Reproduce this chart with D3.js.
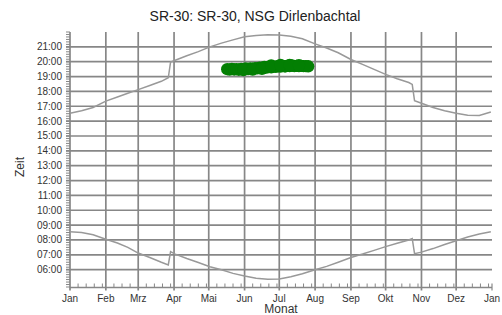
<!DOCTYPE html>
<html>
<head>
<meta charset="utf-8">
<script src="https://cdn.jsdelivr.net/npm/d3@7"></script>
<style>
  body { margin: 0; background: #fff; }
  svg { display: block; font-family: "Liberation Sans", Arial, sans-serif; }
</style>
</head>
<body>
<div id="chart"></div>
<script>
// month boundaries (day of year) and labels
const monthStarts = [0, 31, 59, 90, 120, 151, 181, 212, 243, 273, 304, 334, 365];
const monthLabels = ['Jan', 'Feb', 'Mrz', 'Apr', 'Mai', 'Jun', 'Jul', 'Aug', 'Sep', 'Okt', 'Nov', 'Dez', 'Jan'];
const hourTicks = [6, 7, 8, 9, 10, 11, 12, 13, 14, 15, 16, 17, 18, 19, 20, 21];

// sunset, local time in hours (DST jumps in March and October)
const sunsetDays  = [0, 10, 20, 31, 41, 50, 59, 69, 79, 85, 87, 91, 101, 111, 121, 131, 141, 151, 161, 171, 181, 191, 201, 212, 222, 232, 243, 253, 263, 273, 283, 293, 296, 298, 304, 314, 324, 334, 344, 354, 364];
const sunsetHours = [16.53, 16.7, 16.92, 17.35, 17.62, 17.88, 18.12, 18.4, 18.68, 18.92, 19.98, 20.1, 20.4, 20.68, 21.0, 21.25, 21.47, 21.68, 21.77, 21.82, 21.8, 21.72, 21.55, 21.2, 20.92, 20.6, 20.15, 19.82, 19.48, 19.15, 18.85, 18.6, 18.47, 17.38, 17.2, 16.92, 16.7, 16.53, 16.4, 16.38, 16.62];

// sunrise, local time in hours
const sunriseDays  = [0, 10, 20, 31, 41, 50, 59, 69, 79, 85, 87, 91, 101, 111, 121, 131, 141, 151, 161, 171, 181, 191, 201, 212, 222, 232, 243, 253, 263, 273, 283, 293, 296, 298, 304, 314, 324, 334, 344, 354, 364];
const sunriseHours = [8.55, 8.5, 8.35, 8.05, 7.8, 7.5, 7.12, 6.82, 6.5, 6.32, 7.22, 7.05, 6.75, 6.48, 6.2, 6.0, 5.75, 5.57, 5.43, 5.35, 5.38, 5.52, 5.72, 6.0, 6.22, 6.5, 6.82, 7.05, 7.3, 7.55, 7.78, 8.0, 8.1, 7.08, 7.18, 7.42, 7.7, 7.95, 8.2, 8.4, 8.55];

// observations (day of year, time in hours)
const obsDays  = [136, 138, 140, 142, 144, 146, 148, 150, 152, 154, 156, 158, 160, 162, 164, 166, 168, 170, 172, 174, 176, 178, 180, 182, 184, 186, 188, 190, 192, 194, 196, 198, 200, 202, 204, 206,
                  150, 158, 166, 174, 182, 190, 198];
const obsHours = [19.5, 19.47, 19.52, 19.48, 19.5, 19.46, 19.52, 19.5, 19.55, 19.5, 19.55, 19.52, 19.57, 19.55, 19.6, 19.58, 19.64, 19.6, 19.66, 19.62, 19.68, 19.65, 19.7, 19.67, 19.72, 19.68, 19.72, 19.7, 19.74, 19.7, 19.72, 19.7, 19.72, 19.7, 19.7, 19.69,
                  19.44, 19.47, 19.52, 19.74, 19.78, 19.78, 19.76];

const width = 502, height = 315;
const plot = { left: 70, right: 492, top: 32, bottom: 287.5 };

const svg = d3.select('#chart').append('svg')
  .attr('width', width)
  .attr('height', height);

const x = d3.scaleLinear().domain([0, 365]).range([plot.left, plot.right]);
const y = d3.scaleLinear().domain([4.8, 22]).range([plot.bottom, plot.top]);

const gridColor = '#878787';
const textColor = '#333';

// minor y ticks every 10 minutes
const minorY = d3.range(Math.ceil(4.8 * 6), 22 * 6 + 1).map(d => d / 6);
svg.append('g').selectAll('line')
  .data(minorY)
  .enter().append('line')
  .attr('x1', plot.left - 4).attr('x2', plot.left)
  .attr('y1', d => y(d)).attr('y2', d => y(d))
  .attr('stroke', gridColor).attr('stroke-width', 1);

// horizontal grid lines
svg.append('g').selectAll('line')
  .data(hourTicks)
  .enter().append('line')
  .attr('x1', plot.left - 4).attr('x2', plot.right)
  .attr('y1', d => y(d)).attr('y2', d => y(d))
  .attr('stroke', gridColor).attr('stroke-width', 1.7);

// minor x ticks (weekly within each month)
const minorX = [];
monthStarts.slice(0, 12).forEach((s, i) => {
  [7, 14, 21, 28].forEach(o => { if (s + o < monthStarts[i + 1]) minorX.push(s + o); });
});
svg.append('g').selectAll('line')
  .data(minorX)
  .enter().append('line')
  .attr('x1', d => x(d)).attr('x2', d => x(d))
  .attr('y1', plot.bottom - 4).attr('y2', plot.bottom)
  .attr('stroke', gridColor).attr('stroke-width', 1);

// vertical month grid lines
svg.append('g').selectAll('line')
  .data(monthStarts.slice(0, 12))
  .enter().append('line')
  .attr('x1', d => x(d)).attr('x2', d => x(d))
  .attr('y1', plot.top).attr('y2', plot.bottom + 3)
  .attr('stroke', gridColor).attr('stroke-width', 1.7);

svg.append('line')
  .attr('x1', x(365)).attr('x2', x(365))
  .attr('y1', plot.bottom - 4).attr('y2', plot.bottom + 3)
  .attr('stroke', gridColor).attr('stroke-width', 1.2);

// x axis line
svg.append('line')
  .attr('x1', plot.left).attr('x2', plot.right)
  .attr('y1', plot.bottom).attr('y2', plot.bottom)
  .attr('stroke', gridColor).attr('stroke-width', 1.7);

// y tick labels
svg.append('g').selectAll('text')
  .data(hourTicks)
  .enter().append('text')
  .attr('x', plot.left - 8)
  .attr('y', d => y(d))
  .attr('dy', '0.35em')
  .attr('text-anchor', 'end')
  .style('font-size', '10px')
  .style('fill', textColor)
  .text(d => d3.format('02d')(d) + ':00');

// month labels
svg.append('g').selectAll('text')
  .data(monthStarts)
  .enter().append('text')
  .attr('x', d => x(d))
  .attr('y', plot.bottom + 14)
  .attr('text-anchor', 'middle')
  .style('font-size', '10px')
  .style('fill', textColor)
  .text((d, i) => monthLabels[i]);

// sun lines
const line = d3.line().x(d => x(d[0])).y(d => y(d[1]));
[[sunsetDays, sunsetHours], [sunriseDays, sunriseHours]].forEach(([days, hours]) => {
  svg.append('path')
    .datum(days.map((d, i) => [d, hours[i]]))
    .attr('d', line)
    .attr('fill', 'none')
    .attr('stroke', '#999')
    .attr('stroke-width', 1.5);
});

// observations
svg.append('g').selectAll('circle')
  .data(obsDays.map((d, i) => [d, obsHours[i]]))
  .enter().append('circle')
  .attr('cx', d => x(d[0]))
  .attr('cy', d => y(d[1]))
  .attr('r', 6.2)
  .attr('fill', '#037f03');

// titles
svg.append('text')
  .attr('x', 255).attr('y', 21)
  .attr('text-anchor', 'middle')
  .style('font-size', '14px')
  .style('fill', '#222')
  .text('SR-30: SR-30, NSG Dirlenbachtal');

svg.append('text')
  .attr('x', 281).attr('y', 313)
  .attr('text-anchor', 'middle')
  .style('font-size', '12px')
  .style('fill', textColor)
  .text('Monat');

svg.append('text')
  .attr('transform', 'translate(24,' + 167 + ') rotate(-90)')
  .attr('text-anchor', 'middle')
  .style('font-size', '12px')
  .style('fill', textColor)
  .text('Zeit');
</script>
</body>
</html>
